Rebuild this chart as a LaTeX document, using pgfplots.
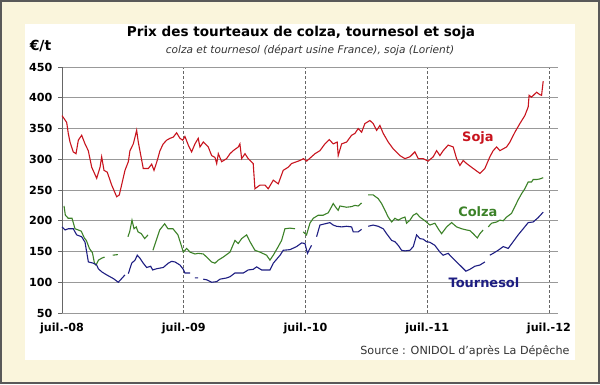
\documentclass[border=0pt]{standalone}
\usepackage{pgfplots}
\pgfplotsset{compat=1.18}
\usepackage{fontspec}
\setmainfont{DejaVu Sans}
\definecolor{cream}{HTML}{FAF5DC}
\definecolor{soja}{HTML}{C8141E}
\definecolor{colza}{HTML}{3C8228}
\definecolor{tourn}{HTML}{1E1E82}
\begin{document}
\begin{tikzpicture}[x=1bp,y=1bp]
\fill[cream] (0,0) rectangle (600,384);
\draw[black!65,line width=2bp] (1,1) rectangle (599,383);
\fill[white] (25,24) rectangle (575,360);
\node[font=\fontsize{13.6}{16}\selectfont\bfseries] at (301,351) {Prix des tourteaux de colza, tournesol et soja};
\node[font=\fontsize{10.6}{13}\selectfont\itshape, text=black!80] at (310,334) {colza et tournesol (départ usine France), soja (Lorient)};
\node[font=\fontsize{14}{16}\selectfont\bfseries] at (40.5,338) {€/t};
\node[font=\fontsize{11.2}{13}\selectfont, text=black!80, anchor=east] at (573,33) {Source : ONIDOL d'après La Dépêche};
\begin{axis}[
  at={(62bp,71bp)}, anchor=south west,
  scale only axis, width=496bp, height=246bp,
  xmin=0, xmax=48.9, ymin=50, ymax=450,
  axis x line*=bottom, axis y line*=left,
  x axis line style={gray!80, line width=0.8bp},
  y axis line style={black!60, line width=0.9bp},
  xtick={0,12,24,36,48},
  xticklabels={juil.-08,juil.-09,juil.-10,juil.-11,juil.-12},
  ytick={50,100,...,450},
  tick align=outside, major tick length=4bp,
  xtick style={draw=none},
  ytick style={black!60, line width=0.8bp},
  xmajorgrids, ymajorgrids,
  x grid style={black!60, densely dashed, line width=0.5bp},
  y grid style={gray!80, line width=0.8bp},
  /pgf/number format/assume math mode=true,
  ticklabel style={font=\fontsize{11.2}{13}\selectfont\bfseries},
  yticklabel style={xshift=-2bp},
  xticklabel style={yshift=-2bp},
  unbounded coords=jump,
  clip=false,
]
\addplot[soja, line width=1.1bp] coordinates {(0,371)(0.46,360)(0.62,342)(0.79,328)(1.11,312)(1.38,309)(1.61,331)(1.94,339)(2.27,325)(2.59,314)(2.93,287)(3.42,269)(3.75,287)(3.91,304)(4.14,282)(4.46,279)(4.9,258)(5.39,239)(5.65,242)(6.21,282)(6.54,296)(6.7,314)(7.03,325)(7.36,347)(7.52,328)(8.01,285)(8.51,285)(8.84,292)(9.07,282)(9.39,298)(9.66,314)(9.98,325)(10.32,331)(10.64,334)(10.97,336)(11.3,343)(11.63,334)(11.9,331)(12.12,337)(12.45,323)(12.78,312)(13.11,325)(13.43,334)(13.6,320)(13.93,328)(14.42,320)(14.75,306)(15.08,303)(15.25,293)(15.41,309)(15.74,296)(16.23,301)(16.56,309)(16.88,314)(17.38,320)(17.54,325)(17.71,301)(18.04,309)(18.36,301)(18.85,293)(19.02,252)(19.52,258)(20.01,258)(20.33,252)(20.83,266)(21.32,260)(21.81,282)(22.3,287)(22.63,293)(23.46,298)(23.8,301)(24.12,297)(24.94,309)(25.43,314)(25.92,325)(26.35,332)(26.74,325)(27.13,328)(27.23,306)(27.57,325)(28.06,328)(28.55,339)(28.88,342)(29.2,350)(29.54,344)(29.86,358)(30.36,363)(30.68,358)(31.02,347)(31.34,355)(31.67,342)(32.16,328)(32.65,317)(33.31,306)(33.81,301)(34.3,304)(34.79,312)(35.12,301)(35.61,301)(36.1,297)(36.6,304)(36.93,314)(37.26,306)(37.58,314)(38.07,323)(38.57,320)(38.9,301)(39.23,290)(39.55,298)(39.89,293)(40.54,285)(41.2,277)(41.69,285)(42.18,304)(42.51,314)(42.85,320)(43.17,314)(43.83,320)(44.16,328)(44.65,344)(45.14,358)(45.63,371)(45.96,385)(46.05,404)(46.29,401)(46.79,409)(47.11,405)(47.28,404)(47.44,427)};
\addplot[colza, line width=1.1bp] coordinates {(0.2,224)(0.33,209)(0.62,204)(0.99,204)(1.28,187)(1.6,185)(1.9,183)(2.2,172)(2.4,168)(2.7,155)(3.0,148)(3.2,131)(3.35,128)(3.6,136)(3.9,139)(4.2,141)(4.4,nan)(5.0,144)(5.5,145)(5.7,nan)(6.5,174)(6.67,182)(6.9,201)(7.1,187)(7.32,190)(7.49,182)(7.82,179)(8.15,171)(8.48,177)(8.7,nan)(8.97,152)(9.29,168)(9.63,185)(10.12,195)(10.45,187)(10.94,187)(11.43,177)(11.7,163)(11.96,149)(12.29,155)(12.62,149)(13.11,146)(13.43,147)(13.93,146)(14.26,141)(14.75,133)(15.08,131)(15.41,136)(15.9,141)(16.56,149)(17.05,168)(17.38,163)(17.71,171)(18.2,177)(18.53,166)(19.02,152)(19.52,149)(20.17,144)(20.5,136)(20.83,144)(21.32,158)(21.65,168)(21.98,187)(22.47,188)(22.97,187)(23.3,nan)(23.78,182)(24.11,177)(24.44,196)(24.77,204)(25.26,209)(25.75,209)(26.25,213)(26.58,223)(26.74,228)(27.07,220)(27.23,217)(27.4,224)(27.73,223)(28.06,222)(28.55,223)(28.88,225)(29.2,224)(29.54,229)(29.8,nan)(30.19,242)(30.68,242)(31.17,236)(31.51,228)(31.84,217)(32.16,206)(32.5,198)(32.82,204)(33.15,201)(33.48,204)(33.81,206)(33.97,196)(34.3,201)(34.63,209)(34.96,212)(35.28,206)(35.78,200)(36.27,193)(36.76,196)(37.09,187)(37.42,179)(37.92,190)(38.41,197)(38.9,190)(39.4,187)(39.89,185)(40.21,184)(40.54,179)(40.94,172)(41.2,179)(41.52,185)(41.75,nan)(42.02,190)(42.35,196)(42.85,198)(43.17,201)(43.5,200)(43.83,206)(44.32,212)(44.65,223)(44.97,234)(45.31,244)(45.63,252)(45.96,263)(46.29,263)(46.45,267)(46.79,267)(47.11,268)(47.44,270)};
\addplot[tourn, line width=1.1bp] coordinates {(0,190)(0.3,185)(0.62,187)(1.11,187)(1.45,177)(1.94,174)(2.27,165)(2.6,133)(3.09,131)(3.42,128)(3.58,122)(3.91,117)(4.4,112)(5.06,106)(5.55,100)(5.88,106)(6.21,112)(6.35,nan)(6.54,114)(6.87,131)(7.2,136)(7.42,144)(7.69,139)(8.01,131)(8.35,124)(8.74,126)(8.94,120)(9.33,122)(9.98,124)(10.48,131)(10.81,134)(11.14,133)(11.63,128)(11.96,121)(12.12,115)(12.62,115)(12.85,nan)(13.11,107)(13.43,107)(13.65,nan)(13.93,105)(14.26,104)(14.75,100)(15.25,101)(15.57,105)(16.23,107)(16.56,109)(17.05,115)(17.87,115)(18.36,120)(18.85,121)(19.19,125)(19.68,120)(20.5,120)(20.83,131)(21.5,144)(21.81,152)(22.47,153)(23.13,158)(23.62,164)(23.95,163)(24.2,147)(24.44,155)(24.6,160)(24.8,nan)(25.1,174)(25.43,193)(25.92,195)(26.41,197)(26.74,193)(27.07,191)(27.57,190)(28.06,191)(28.55,190)(28.71,182)(29.2,182)(29.54,186)(29.8,nan)(30.19,191)(30.68,193)(31.17,191)(31.67,187)(32.0,179)(32.5,168)(32.82,166)(33.15,160)(33.48,152)(33.81,151)(34.3,152)(34.63,158)(34.96,177)(35.28,171)(35.61,170)(35.94,166)(36.27,165)(36.76,160)(37.26,149)(37.58,144)(38.07,147)(38.41,141)(38.9,133)(39.4,125)(39.82,118)(40.21,121)(40.7,126)(41.2,128)(41.69,133)(41.9,nan)(42.18,144)(42.51,147)(43.0,152)(43.5,158)(43.99,155)(44.48,166)(44.97,177)(45.47,187)(45.96,197)(46.45,198)(46.94,205)(47.44,214)};
\node[text=soja, font=\fontsize{13}{15}\selectfont\bfseries] at (axis cs:41.0,334) {Soja};
\node[text=colza, font=\fontsize{13}{15}\selectfont\bfseries] at (axis cs:41.0,215) {Colza};
\node[text=tourn, font=\fontsize{13}{15}\selectfont\bfseries] at (axis cs:41.6,100) {Tournesol};
\end{axis}
\end{tikzpicture}
\end{document}
